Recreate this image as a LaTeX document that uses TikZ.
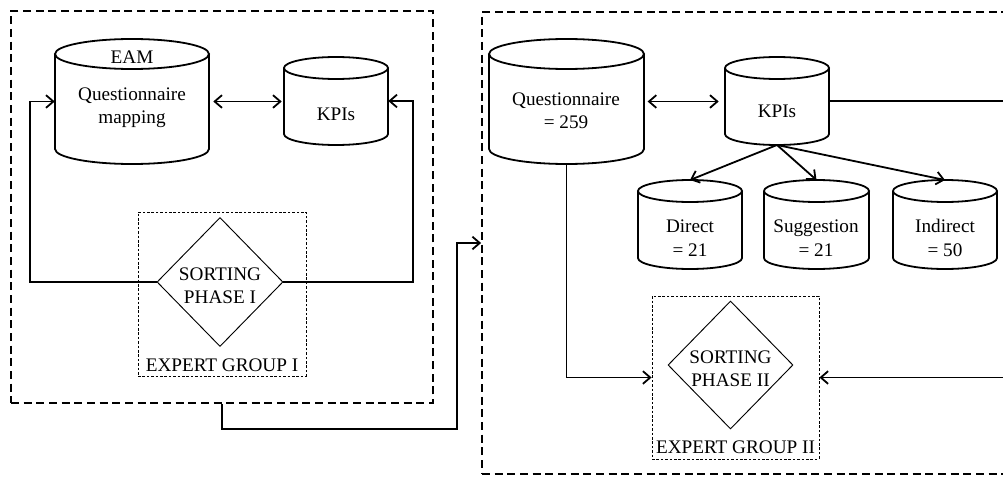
\documentclass[tikz,border=0pt]{standalone}
\usepackage{fontspec}
\setmainfont{Liberation Serif}
\usetikzlibrary{arrows.meta,shapes.geometric}
\tikzset{
  outerbox/.style={draw, line width=1.35pt, dash pattern=on 6pt off 3.5pt, rectangle, inner sep=0pt},
  groupbox/.style={draw, line width=0.6pt, dash pattern=on 2pt off 1.3pt, rectangle, inner sep=0pt},
  cylline/.style={line width=1.35pt},
  body/.style={draw=none, rectangle, inner sep=0pt},
  conn/.style={line width=1.35pt},
  arr/.style={conn, -{Straight Barb[length=5.5pt,width=9.5pt]}},
  arrboth/.style={conn, {Straight Barb[length=5.5pt,width=9.5pt]}-{Straight Barb[length=5.5pt,width=9.5pt]}},
  dia/.style={draw, diamond, line width=0.7pt, inner sep=0pt, aspect=1},
  txt/.style={align=center, inner sep=0pt, font=\fontsize{14.4pt}{17.5pt}\selectfont},
}
\newcommand\mycyl[6]{%
  \draw[cylline] (#2,{#4-#6}) -- (#2,{#5+#6})
    arc[start angle=180, end angle=360, x radius={(#3-#2)/2}, y radius=#6]
    -- (#3,{#4-#6});
  \draw[cylline] ({(#2+#3)/2},{#4-#6}) ellipse[x radius={(#3-#2)/2}, y radius=#6];
  \node[body, minimum width={(#3-#2)*0.75pt}, minimum height={(#4-#5-2*#6)*0.75pt}] (#1) at ({(#2+#3)/2},{(#4+#5)/2}) {};
  \coordinate (#1top) at ({(#2+#3)/2},#4);
  \coordinate (#1bot) at ({(#2+#3)/2},#5);
}
\begin{document}
\begin{tikzpicture}[x=0.75pt,y=0.75pt]
\useasboundingbox (0,0) rectangle (1003,476);
\clip (0,0) rectangle (1003,476);

% outer boxes
\node[outerbox, minimum width=316.5pt, minimum height=294pt] (boxL) at (222,269) {};
\node[outerbox, minimum width=399.75pt, minimum height=346.5pt] (boxR) at (748.5,233) {};

% expert group boxes
\node[groupbox, minimum width=126pt, minimum height=123pt] (eg1) at (222,182) {};
\node[groupbox, minimum width=125.25pt, minimum height=122.25pt] (eg2) at (735.5,98.5) {};

% cylinders
\mycyl{c1}{55}{209}{437}{312}{15}
\mycyl{c2}{284}{388}{419}{331}{11}
\mycyl{c3}{489}{644}{437}{312}{15}
\mycyl{c4}{725}{829}{419}{331}{11}
\mycyl{c5}{638}{742}{296}{207}{11}
\mycyl{c6}{764}{869}{296}{207}{11}
\mycyl{c7}{893}{997}{296}{207}{11}

% cylinder texts
\node[txt] (t1a) at (132,419) {EAM};
\node[txt] (t1b) at (132,368) {Questionnaire\\mapping};
\node[txt] (t2) at (336,362) {KPIs};
\node[txt] (t3) at (566,365) {Questionnaire\\= 259};
\node[txt] (t4) at (777,365) {KPIs};
\node[txt] (t5) at (690,238) {Direct\\= 21};
\node[txt] (t6) at (816,238) {Suggestion\\= 21};
\node[txt] (t7) at (945,238) {Indirect\\= 50};

% diamonds
\node[dia, minimum width=94.5pt, minimum height=96.75pt] (d1) at (220,194) {};
\node[dia, minimum width=93.75pt, minimum height=96pt] (d2) at (730.5,111) {};
\node[txt] (td1) at (220,190) {SORTING\\PHASE I};
\node[txt] (td2) at (730.5,107) {SORTING\\PHASE II};

% group labels
\node[txt] (l1) at (222,111) {EXPERT GROUP I};
\node[txt] (l2) at (735.5,29) {EXPERT GROUP II};

% connectors left
\draw[arrboth] ([xshift=3pt]c1.east) -- ([xshift=-1.5pt]c1.east -| c2.west);
\draw[arr] (d1.west) -- (30,194) |- (c1.west);
\draw[arr] (d1.east) -- (413,194) |- (c2.east);

% link between boxes
\draw[arr] (boxL.south) |- (457,47) |- (boxR.west);

% connectors right
\draw[arrboth] ([xshift=2.5pt]c3.east) -- ([xshift=-4.5pt]c3.east -| c4.west);
\draw[arr] (c4bot) -- (c5top);
\draw[arr] (c4bot) -- (c6top);
\draw[arr] (c4bot) -- (c7top);
\draw[arr] (c3bot) |- (eg2.west);
\coordinate (rt) at (1012,375);
\draw[arr] (c4.east |- rt) -- (rt) |- (eg2.east);
\end{tikzpicture}
\end{document}
